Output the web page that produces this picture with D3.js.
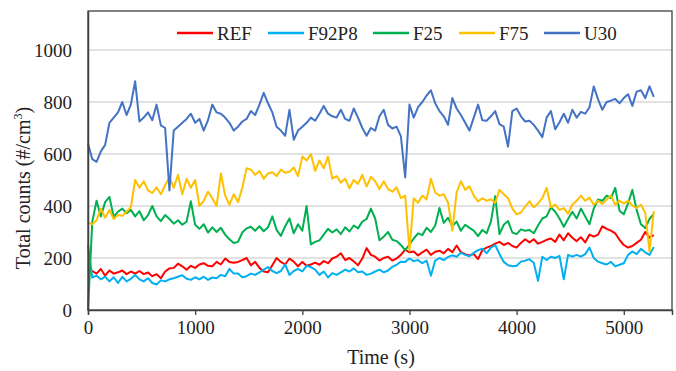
<!DOCTYPE html>
<html>
<head>
<meta charset="utf-8">
<script src="https://cdn.jsdelivr.net/npm/d3@7"></script>
<style>
  html, body { margin: 0; padding: 0; background: #fff; }
  svg { display: block; }
  text { font-family: "Liberation Serif", "Times New Roman", serif; fill: #222; }
</style>
</head>
<body>
<svg id="chart" width="676" height="371"></svg>
<script>
// ---- data ----
const sampleStep = 40; // seconds between samples
const seriesNames = ["REF", "F92P8", "F25", "F75", "U30"];
const xTicks = [0, 1000, 2000, 3000, 4000, 5000];
const yTicks = [0, 200, 400, 600, 800, 1000];

const REF = [155,150,140,158,132,152,140,145,152,138,148,140,150,138,144,130,138,122,148,160,162,178,168,155,170,162,175,180,170,168,185,175,198,185,182,
  185,192,200,172,185,162,148,145,172,200,185,175,198,186,168,185,170,175,182,174,188,180,198,205,218,192,200,187,172,198,238,212,205,190,
  200,205,190,198,212,232,222,225,210,222,232,212,224,228,218,235,222,248,222,215,210,215,196,230,240,246,255,262,250,258,246,240,258,272,
  260,272,255,262,270,275,262,290,268,295,278,265,280,260,290,282,290,322,312,305,295,270,250,240,246,258,270,300,278,288];

const F92P8 = [250,125,132,118,128,110,126,104,128,110,120,135,118,110,122,104,98,114,110,118,122,128,134,120,116,126,118,128,116,125,122,135,130,158,140,
  140,126,130,140,135,145,155,165,150,142,150,175,135,150,158,148,170,165,155,135,148,125,142,135,145,155,148,160,145,148,135,140,148,155,
  145,152,166,174,186,185,198,188,192,180,190,132,190,200,192,204,210,205,220,212,207,220,230,236,218,240,250,215,185,172,168,170,186,190,
  195,182,112,205,192,205,200,208,118,212,205,212,205,215,240,200,186,180,175,185,168,174,180,212,225,215,235,222,212,242];

const F25 = [0,340,420,360,415,435,358,378,390,372,385,360,380,345,365,400,360,342,365,350,332,345,328,340,418,328,312,330,298,318,300,316,290,272,258,
  262,298,314,320,305,322,303,318,360,308,285,322,352,295,330,305,400,252,262,268,290,312,298,310,292,318,302,325,314,340,350,390,352,268,
  282,300,270,265,250,230,252,275,295,288,316,300,325,392,335,355,322,340,305,328,316,305,284,308,295,340,438,292,328,342,298,292,310,305,
  308,295,325,352,360,395,378,352,320,350,378,352,390,360,330,390,425,420,440,430,470,382,368,410,462,385,330,315,350,370];

const F75 = [335,330,345,390,355,385,350,365,362,378,395,500,470,495,460,450,472,445,480,510,470,520,445,505,470,500,400,420,455,430,400,525,440,405,445,
  415,470,545,540,520,535,505,525,530,515,540,528,532,548,515,590,575,600,535,575,545,590,505,515,490,505,468,500,485,520,475,512,495,465,
  495,465,455,472,430,440,228,430,412,440,425,505,452,440,445,413,305,452,495,462,476,440,418,430,420,426,412,462,445,430,390,368,375,398,
  418,395,410,430,470,395,405,385,392,370,405,420,440,420,432,405,420,408,425,440,405,420,410,420,402,392,405,375,225,380];

const U30 = [640,580,570,610,635,720,740,760,800,750,790,880,725,740,760,730,790,710,700,460,690,705,720,735,755,720,735,690,730,790,760,755,740,720,690,
  705,725,735,765,750,790,835,795,760,705,690,670,770,655,690,705,720,740,728,755,785,755,745,740,770,735,728,775,740,700,670,700,690,745,
  770,712,698,705,668,510,790,740,780,800,825,845,795,765,745,712,815,775,750,720,690,740,790,730,728,745,765,715,705,628,765,775,745,725,
  728,712,690,665,740,765,695,722,755,720,770,740,762,755,780,860,810,770,800,805,812,795,815,830,785,840,845,815,860,820];

const seriesValues = [REF, F92P8, F25, F75, U30];
const colors = ["#FF0000", "#00B0F0", "#00B050", "#FFC000", "#4472C4"];

// ---- layout ----
const svg = d3.select("#chart");
const L = 88, R = 672, T = 11, B = 310;
const x = d3.scaleLinear().domain([0, 5450]).range([L, R]);
const y = d3.scaleLinear().domain([0, 1150]).range([B, T]);

// gridlines
svg.append("g").selectAll("line").data(yTicks.filter(d => d > 0)).join("line")
  .attr("x1", L).attr("x2", R)
  .attr("y1", d => y(d)).attr("y2", d => y(d))
  .attr("stroke", "#D9D9D9").attr("stroke-width", 1.5);

// series
const line = d3.line().x((d, i) => x(i * sampleStep)).y(d => y(d));
seriesValues.forEach((vals, k) => {
  svg.append("path").datum(vals)
    .attr("d", line)
    .attr("fill", "none")
    .attr("stroke", colors[k])
    .attr("stroke-width", 2)
    .attr("stroke-linejoin", "round");
});

// frame
svg.append("rect").attr("x", L).attr("y", T).attr("width", R - L).attr("height", B - T)
  .attr("fill", "none").attr("stroke", "#404040").attr("stroke-width", 1.3);

// x axis
const xAxis = d3.axisBottom(x).tickValues(xTicks).tickSize(5).tickPadding(6).tickFormat(d3.format("d"));
const gx = svg.append("g").attr("transform", `translate(0,${B})`).call(xAxis);
gx.select(".domain").attr("stroke", "#404040").attr("stroke-width", 1.5);
gx.selectAll(".tick line").attr("stroke", "#404040").attr("stroke-width", 1.3);
gx.selectAll(".tick text").attr("font-size", 19).attr("font-family", "Liberation Serif").attr("fill", "#222");

// y axis
const yAxis = d3.axisLeft(y).tickValues(yTicks).tickSize(0).tickPadding(16).tickFormat(d3.format("d"));
const gy = svg.append("g").attr("transform", `translate(${L},0)`).call(yAxis);
gy.select(".domain").attr("stroke", "#404040").attr("stroke-width", 1.5);
gy.selectAll(".tick text").attr("font-size", 19).attr("font-family", "Liberation Serif").attr("fill", "#222");

// axis titles
svg.append("text").attr("x", 381).attr("y", 364).attr("text-anchor", "middle")
  .attr("font-size", 20).text("Time (s)");
const yt = svg.append("text").attr("transform", "translate(30,188) rotate(-90)")
  .attr("text-anchor", "middle").attr("font-size", 20);
yt.append("tspan").text("Total counts (#/cm");
yt.append("tspan").attr("font-size", 12).attr("dy", -8).text("3");
yt.append("tspan").attr("dy", 8).text(")");

// legend
const legendX = [177, 268, 373, 459, 544];
const lg = svg.append("g").selectAll("g").data(seriesNames).join("g")
  .attr("transform", (d, i) => `translate(${legendX[i]},33)`);
lg.append("line").attr("x1", 0).attr("x2", 36).attr("y1", 0).attr("y2", 0)
  .attr("stroke", (d, i) => colors[i]).attr("stroke-width", 2.5);
lg.append("text").attr("x", 40).attr("y", 6.5).attr("font-size", 19).text(d => d);
</script>
</body>
</html>
